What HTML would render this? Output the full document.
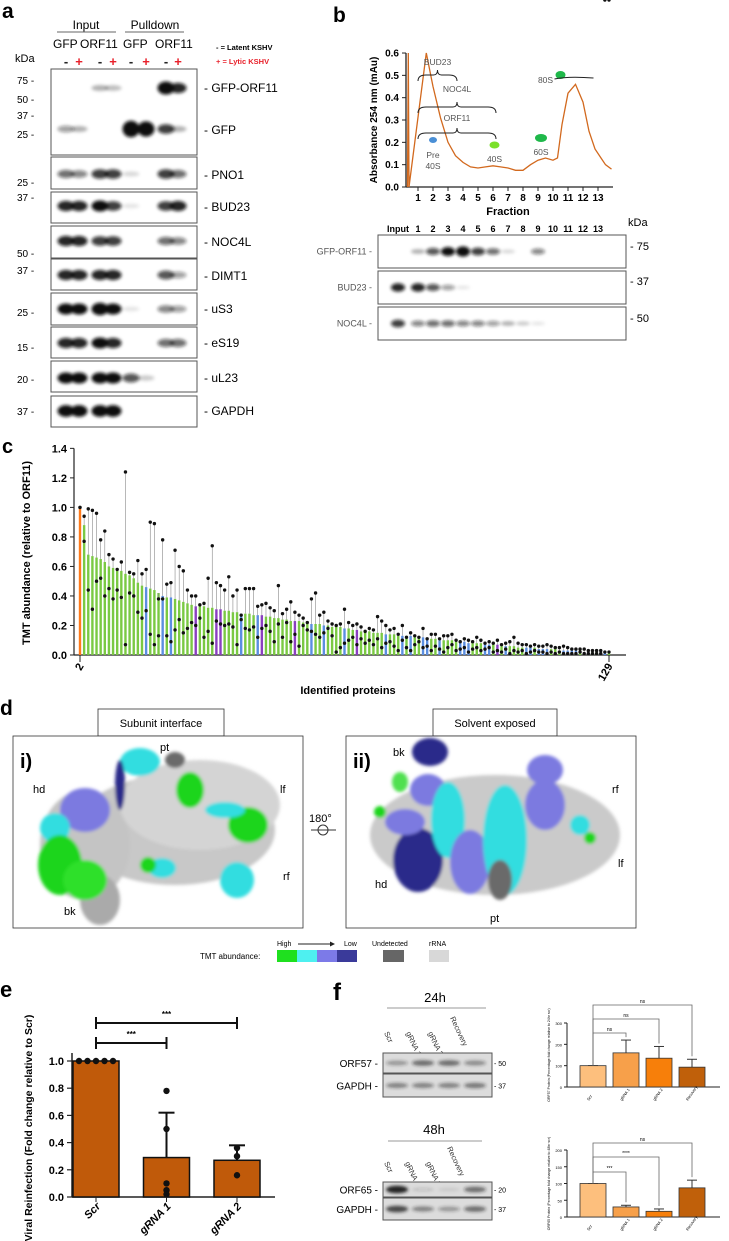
<!DOCTYPE html>
<html><head><meta charset="utf-8"><style>
html,body{margin:0;padding:0;background:#fff;}
svg{display:block;font-family:"Liberation Sans",Arial,sans-serif;}
</style></head><body>
<svg id="fig" width="729" height="1241" viewBox="0 0 729 1241" xmlns="http://www.w3.org/2000/svg">
<defs>
<filter id="blur" x="-50%" y="-50%" width="200%" height="200%"><feGaussianBlur stdDeviation="1.6"/></filter>
</defs>

<!-- PANEL A -->
<g>
<text x="2" y="18" font-size="21" font-weight="bold">a</text>
<text x="86" y="29" font-size="12" text-anchor="middle">Input</text>
<line x1="57" y1="32" x2="116" y2="32" stroke="#333" stroke-width="0.8"/>
<text x="155" y="29" font-size="12" text-anchor="middle">Pulldown</text>
<line x1="125" y1="32" x2="184" y2="32" stroke="#333" stroke-width="0.8"/>
<text x="53" y="48" font-size="12">GFP</text><text x="80" y="48" font-size="12">ORF11</text>
<text x="123" y="48" font-size="12">GFP</text><text x="155" y="48" font-size="12">ORF11</text>
<g id="pm" font-size="13" font-weight="bold"></g>
<text x="216" y="50" font-size="7.5" font-weight="bold">-  = Latent KSHV</text>
<text x="216" y="64" font-size="7.5" font-weight="bold" fill="#e8202a">+ = Lytic KSHV</text>
<text x="15" y="62" font-size="11">kDa</text>
<g id="blotsA"></g>
</g>

<!-- PANEL B -->
<g>
<text x="333" y="22" font-size="21" font-weight="bold">b</text>
<g id="chartB"></g>
<g id="blotsB"></g>
</g>

<!-- PANEL C -->
<g>
<text x="2" y="453" font-size="20" font-weight="bold">c</text>
<g id="chartC"></g>
</g>

<!-- PANEL D -->
<g>
<text x="0" y="715" font-size="21" font-weight="bold">d</text>
<rect x="98" y="709" width="126" height="27" fill="#fff" stroke="#333" stroke-width="0.8"/>
<text x="161" y="727" font-size="11" text-anchor="middle">Subunit interface</text>
<rect x="433" y="709" width="124" height="27" fill="#fff" stroke="#333" stroke-width="0.8"/>
<text x="495" y="727" font-size="11" text-anchor="middle">Solvent exposed</text>
<rect x="13" y="736" width="290" height="192" fill="#fff" stroke="#333" stroke-width="0.8"/>
<rect x="346" y="736" width="290" height="192" fill="#fff" stroke="#333" stroke-width="0.8"/>
<g filter="url(#blur)">
<!-- structure i -->
<ellipse cx="175" cy="830" rx="100" ry="55" fill="#c8c8c8"/>
<ellipse cx="85" cy="845" rx="45" ry="55" fill="#c4c4c4"/>
<ellipse cx="200" cy="805" rx="80" ry="45" fill="#d4d4d4"/>
<ellipse cx="100" cy="900" rx="20" ry="25" fill="#aaa"/>
<ellipse cx="85" cy="810" rx="25" ry="22" fill="#7c7ae0"/>
<ellipse cx="55" cy="828" rx="15" ry="15" fill="#33dde0"/>
<ellipse cx="60" cy="865" rx="22" ry="30" fill="#1fd51f"/>
<ellipse cx="85" cy="880" rx="22" ry="20" fill="#2fe02a"/>
<ellipse cx="140" cy="762" rx="20" ry="14" fill="#33dde0"/>
<ellipse cx="120" cy="785" rx="5" ry="25" fill="#2a2a8a"/>
<ellipse cx="190" cy="790" rx="14" ry="18" fill="#1fd51f"/>
<ellipse cx="248" cy="825" rx="20" ry="18" fill="#1fd51f"/>
<ellipse cx="225" cy="810" rx="20" ry="8" fill="#33dde0"/>
<ellipse cx="237" cy="880" rx="17" ry="18" fill="#33dde0"/>
<ellipse cx="162" cy="868" rx="14" ry="10" fill="#33dde0"/>
<ellipse cx="148" cy="865" rx="8" ry="8" fill="#1fd51f"/>
<ellipse cx="175" cy="760" rx="10" ry="8" fill="#6a6a6a"/>
<!-- structure ii -->
<ellipse cx="495" cy="835" rx="125" ry="60" fill="#cacaca"/>
<ellipse cx="430" cy="752" rx="18" ry="14" fill="#2a2a8a"/>
<ellipse cx="428" cy="790" rx="18" ry="16" fill="#7c7ae0"/>
<ellipse cx="400" cy="782" rx="8" ry="10" fill="#4fe04f"/>
<ellipse cx="418" cy="860" rx="25" ry="32" fill="#2a2a8a"/>
<ellipse cx="405" cy="822" rx="20" ry="13" fill="#7c7ae0"/>
<ellipse cx="448" cy="820" rx="17" ry="38" fill="#33dde0"/>
<ellipse cx="470" cy="862" rx="20" ry="32" fill="#7c7ae0"/>
<ellipse cx="505" cy="840" rx="22" ry="55" fill="#33dde0"/>
<ellipse cx="545" cy="805" rx="20" ry="25" fill="#7c7ae0"/>
<ellipse cx="545" cy="770" rx="18" ry="15" fill="#7c7ae0"/>
<ellipse cx="500" cy="880" rx="12" ry="20" fill="#6a6a6a"/>
<ellipse cx="580" cy="825" rx="10" ry="10" fill="#33dde0"/>
<ellipse cx="590" cy="838" rx="6" ry="6" fill="#1fd51f"/>
<ellipse cx="380" cy="812" rx="6" ry="6" fill="#1fd51f"/>
</g>
<text x="20" y="768" font-size="20" font-weight="bold">i)</text>
<text x="353" y="768" font-size="20" font-weight="bold">ii)</text>
<text x="33" y="793" font-size="11">hd</text><text x="160" y="751" font-size="11">pt</text>
<text x="280" y="793" font-size="11">lf</text><text x="283" y="880" font-size="11">rf</text>
<text x="64" y="915" font-size="11">bk</text>
<text x="393" y="756" font-size="11">bk</text><text x="612" y="793" font-size="11">rf</text>
<text x="618" y="867" font-size="11">lf</text><text x="375" y="888" font-size="11">hd</text>
<text x="490" y="922" font-size="11">pt</text>
<text x="309" y="822" font-size="11">180°</text>
<line x1="311" y1="830" x2="336" y2="830" stroke="#333"/>
<circle cx="323" cy="830" r="5" fill="none" stroke="#333"/>
<text x="277" y="946" font-size="7">High</text>
<line x1="298" y1="944" x2="330" y2="944" stroke="#222"/><path d="M330,941.5 L335,944 L330,946.5Z" fill="#222"/>
<text x="344" y="946" font-size="7">Low</text>
<text x="372" y="946" font-size="7">Undetected</text>
<text x="429" y="946" font-size="7">rRNA</text>
<text x="200" y="959" font-size="8">TMT abundance:</text>
<rect x="277" y="950" width="20" height="12" fill="#1fe01f"/>
<rect x="297" y="950" width="20" height="12" fill="#4ef0f0"/>
<rect x="317" y="950" width="20" height="12" fill="#7c7ae8"/>
<rect x="337" y="950" width="20" height="12" fill="#3a3a9a"/>
<rect x="383" y="950" width="21" height="12" fill="#666"/>
<rect x="429" y="950" width="20" height="12" fill="#d8d8d8"/>
</g>

<!-- PANEL E -->
<g>
<text x="0" y="997" font-size="22" font-weight="bold">e</text>
<g id="chartE"></g>
</g>

<!-- PANEL F -->
<g>
<text x="333" y="1000" font-size="24" font-weight="bold">f</text>
<text x="435" y="1002" font-size="13" text-anchor="middle">24h</text>
<line x1="387" y1="1008" x2="486" y2="1008" stroke="#999"/>
<text x="434" y="1134" font-size="13" text-anchor="middle">48h</text>
<line x1="388" y1="1141" x2="482" y2="1141" stroke="#999"/>
<g id="blotsF"></g>
<g id="chartF1"></g>
<g id="chartF2"></g>
</g>
</svg>

<script>
var NS="http://www.w3.org/2000/svg";
function mk(parent,tag,attrs,txt){var e=document.createElementNS(NS,tag);for(var k in attrs)e.setAttribute(k,attrs[k]);if(txt!==undefined)e.textContent=txt;parent.appendChild(e);return e;}

/* ---------- Panel A blots ---------- */
var laneSigns=["-","+","-","+","-","+","-","+"];
var laneX=[66,79,100,113,131,146,166,178];
var pm=document.getElementById('pm');
for(var i=0;i<8;i++){var t=mk(pm,'text',{x:laneX[i],y:66,'text-anchor':'middle',fill:laneSigns[i]=="+"?"#e8202a":"#222"},laneSigns[i]);
}
var blotRows=[
 {name:"GFP-ORF11",y0:69,y1:155,by:88,ly:88,b:[0,0,.3,.25,0,0,1.3,.9]},
 {name:"GFP",y0:null,by:129,ly:130,b:[.4,.3,0,0,1.8,1.6,.8,.3]},
 {name:"PNO1",y0:157,y1:189,by:174,ly:175,b:[.6,.5,.8,.8,.15,0,.8,.6]},
 {name:"BUD23",y0:192,y1:223,by:206,ly:207,b:[.9,.9,1,.8,.1,0,.8,.9]},
 {name:"NOC4L",y0:226,y1:258,by:241,ly:242,b:[.9,.9,.8,.8,0,0,.6,.5]},
 {name:"DIMT1",y0:259,y1:290,by:275,ly:276,b:[.9,.9,.9,.9,0,0,.7,.4]},
 {name:"uS3",y0:293,y1:325,by:309,ly:309,b:[1,1,1.2,1,.1,0,.5,.4]},
 {name:"eS19",y0:327,y1:358,by:343,ly:343,b:[.9,.9,1,.9,0,0,.6,.6]},
 {name:"uL23",y0:361,y1:392,by:378,ly:378,b:[1,1,1,1,.7,.2,0,0]},
 {name:"GAPDH",y0:396,y1:427,by:411,ly:411,b:[1.1,1.1,1.1,1.1,0,0,0,0]}];
var kdaA=[["75 -",80],["50 -",99],["37 -",115],["25 -",134],["25 -",182],["37 -",197],["50 -",253],["37 -",270],["25 -",312],["15 -",347],["20 -",379],["37 -",411]];
var gA=document.getElementById('blotsA');
blotRows.forEach(function(r){
 if(r.y0!==null){var bx=mk(gA,'rect',{x:51,y:r.y0,width:146,height:r.y1-r.y0,fill:"#fff",stroke:"#555","stroke-width":1});
 }
 var bg=mk(gA,'g',{filter:'url(#blur)'});
 r.b.forEach(function(v,i){if(v>0){var e=mk(bg,'ellipse',{cx:laneX[i],cy:r.by,rx:8.5,ry:Math.min(10,2+v*3.5),fill:"#111",opacity:Math.min(1,v)});
 }});
 var l=mk(gA,'text',{x:204,y:r.ly+4,'font-size':12},"- "+r.name);
 
});
kdaA.forEach(function(k){mk(gA,'text',{x:17,y:k[1]+4,'font-size':10},k[0]);});

/* ---------- Panel B chart ---------- */
var fracTicks=[1,2,3,4,5,6,7,8,9,10,11,12,13];
var absTicks=[0,0.1,0.2,0.3,0.4,0.5,0.6];
var profileX=[0.3,0.35,0.4,1.55,2.0,2.5,3.0,3.5,4.0,4.5,5.0,5.5,6.0,6.5,7.0,7.5,8.0,8.5,9.0,9.5,10.0,10.3,10.6,11.0,11.5,12.0,12.4,12.8,13.2,13.5,13.9];
var profileY=[0.0,0.6,0.0,0.6,0.45,0.31,0.2,0.14,0.11,0.09,0.085,0.09,0.095,0.09,0.085,0.075,0.075,0.1,0.12,0.13,0.12,0.13,0.28,0.42,0.46,0.38,0.25,0.17,0.13,0.1,0.08];
var gB=document.getElementById('chartB');
function bx(f){return 418+(f-1)*15;} function by(v){return 187-v*223.3;}
mk(gB,'line',{x1:406,y1:by(0.6),x2:406,y2:187,stroke:"#222","stroke-width":1.3});
mk(gB,'line',{x1:406,y1:187,x2:613,y2:187,stroke:"#222","stroke-width":1.3});
absTicks.forEach(function(v){mk(gB,'line',{x1:402,x2:406,y1:by(v),y2:by(v),stroke:"#222"});
 var t=mk(gB,'text',{x:399,y:by(v)+3.5,'font-size':10,'font-weight':'bold','text-anchor':'end'},v.toFixed(1));});
fracTicks.forEach(function(f){mk(gB,'line',{x1:bx(f),x2:bx(f),y1:187,y2:191,stroke:"#222"});
 var t=mk(gB,'text',{x:bx(f),y:201,'font-size':10,'font-weight':'bold','text-anchor':'middle'},f);});
var t=mk(gB,'text',{x:508,y:215,'font-size':11,'font-weight':'bold','text-anchor':'middle'},"Fraction");
t=mk(gB,'text',{x:0,y:0,'font-size':10,'font-weight':'bold','text-anchor':'middle',transform:'translate(377,120) rotate(-90)'},"Absorbance 254 nm (mAu)");
var d="";profileX.forEach(function(x,i){var X=Math.min(613,Math.max(406,bx(x))),Y=Math.max(by(0.6),by(profileY[i]));d+=(i?"L":"M")+X.toFixed(1)+","+Y.toFixed(1);});
var pl=mk(gB,'path',{d:d,fill:"none",stroke:"#d2691e","stroke-width":1.3});
[["BUD23",1,3.6,75,65],["NOC4L",1,6.2,107,92],["ORF11",1,6.2,133,121]].forEach(function(b){var x1=bx(b[1]),x2=bx(b[2]),y=b[3],m=(x1+x2)/2;
 mk(gB,'path',{d:"M"+x1+","+(y+6)+" Q"+x1+","+y+" "+(x1+8)+","+y+" L"+(m-4)+","+y+" Q"+m+","+y+" "+m+","+(y-5)+" Q"+m+","+y+" "+(m+4)+","+y+" L"+(x2-8)+","+y+" Q"+x2+","+y+" "+x2+","+(y+6),fill:"none",stroke:"#222","stroke-width":1});
 mk(gB,'text',{x:m,y:b[4],'font-size':8.5,fill:'#555','text-anchor':'middle'},b[0]);});
mk(gB,'ellipse',{cx:bx(2),cy:140,rx:4,ry:3,fill:"#4a8fd6"});
mk(gB,'text',{x:bx(2),y:158,'font-size':8.5,fill:'#555','text-anchor':'middle'},"Pre");
mk(gB,'text',{x:bx(2),y:169,'font-size':8.5,fill:'#555','text-anchor':'middle'},"40S");
mk(gB,'ellipse',{cx:bx(6.1),cy:145,rx:5,ry:3.5,fill:"#7be02a"});
mk(gB,'text',{x:bx(6.1),y:162,'font-size':8.5,fill:'#555','text-anchor':'middle'},"40S");
mk(gB,'ellipse',{cx:bx(9.2),cy:138,rx:6,ry:4,fill:"#1fb84a"});
mk(gB,'text',{x:bx(9.2),y:155,'font-size':8.5,fill:'#555','text-anchor':'middle'},"60S");
mk(gB,'ellipse',{cx:bx(10.5),cy:75,rx:5,ry:4,fill:"#1fb84a"});
mk(gB,'path',{d:"M"+bx(10.1)+",79 Q"+bx(11)+",76 "+bx(12.7)+",78",fill:"none",stroke:"#222"});
mk(gB,'text',{x:bx(9.5),y:83,'font-size':8.5,fill:'#555','text-anchor':'middle'},"80S");

/* ---------- Panel B blots ---------- */
var gBB=document.getElementById('blotsB');
var laneLabB=["Input","1","2","3","4","5","6","7","8","9","10","11","12","13"];
function lbx(i){return i==0?398:418+(i-1)*15;}
laneLabB.forEach(function(l,i){mk(gBB,'text',{x:lbx(i),y:232,'font-size':9,'font-weight':'bold','text-anchor':'middle'},l);});
mk(gBB,'text',{x:628,y:226,'font-size':11},"kDa");
var bRows=[{n:"GFP-ORF11",y0:235,y1:268,k:"- 75",ky:250,b:[0,.3,.7,1,1.2,.8,.6,.15,0,.5,0,0,0,0]},
 {n:"BUD23",y0:271,y1:304,k:"- 37",ky:285,b:[.9,.9,.7,.4,.1,0,0,0,0,0,0,0,0,0]},
 {n:"NOC4L",y0:307,y1:340,k:"- 50",ky:322,b:[.8,.5,.6,.6,.5,.5,.4,.3,.2,.1,0,0,0,0]}];
bRows.forEach(function(r){var bx2=mk(gBB,'rect',{x:378,y:r.y0,width:248,height:r.y1-r.y0,fill:"#fff",stroke:"#555"});
 
 var g=mk(gBB,'g',{filter:'url(#blur)'});var cyy=(r.y0+r.y1)/2;
 r.b.forEach(function(v,i){if(v>0)mk(g,'ellipse',{cx:lbx(i),cy:cyy,rx:7,ry:1.5+v*3,fill:"#111",opacity:Math.min(1,v)});});
 mk(gBB,'text',{x:372,y:cyy+3,'font-size':9,fill:'#555','text-anchor':'end'},r.n+" -");
 mk(gBB,'text',{x:630,y:r.ky,'font-size':11},r.k);});

/* ---------- Panel C chart ---------- */
var tmtValues=[1.00,0.88,0.68,0.67,0.66,0.65,0.63,0.60,0.59,0.58,0.57,0.55,0.54,0.52,0.49,0.47,0.46,0.45,0.44,0.42,0.40,0.39,0.39,0.38,0.37,0.36,0.35,0.34,0.33,0.33,0.33,0.32,0.32,0.31,0.31,0.30,0.30,0.29,0.29,0.28,0.28,0.28,0.27,0.27,0.27,0.26,0.26,0.25,0.25,0.24,0.24,0.23,0.23,0.23,0.22,0.22,0.21,0.21,0.21,0.20,0.20,0.19,0.19,0.19,0.18,0.18,0.17,0.17,0.16,0.16,0.16,0.15,0.15,0.15,0.14,0.14,0.14,0.13,0.13,0.13,0.13,0.12,0.12,0.12,0.11,0.11,0.11,0.10,0.10,0.10,0.10,0.09,0.09,0.09,0.08,0.08,0.08,0.08,0.07,0.07,0.07,0.07,0.06,0.06,0.06,0.06,0.05,0.05,0.05,0.05,0.05,0.04,0.04,0.04,0.04,0.04,0.03,0.03,0.03,0.03,0.03,0.03,0.02,0.02,0.02,0.02,0.02,0.02,0.01];
var tmtMax=[1.00,0.94,0.99,0.98,0.96,0.78,0.84,0.68,0.65,0.58,0.63,1.24,0.56,0.55,0.64,0.55,0.58,0.90,0.89,0.38,0.78,0.48,0.49,0.71,0.60,0.57,0.44,0.40,0.40,0.34,0.35,0.52,0.74,0.49,0.47,0.44,0.53,0.40,0.44,0.27,0.45,0.45,0.45,0.33,0.34,0.35,0.32,0.30,0.47,0.28,0.31,0.36,0.29,0.27,0.25,0.22,0.38,0.42,0.27,0.29,0.23,0.21,0.20,0.21,0.31,0.22,0.20,0.21,0.19,0.16,0.18,0.17,0.26,0.23,0.20,0.17,0.18,0.14,0.20,0.12,0.15,0.13,0.12,0.18,0.11,0.14,0.14,0.11,0.13,0.13,0.14,0.10,0.09,0.11,0.10,0.09,0.12,0.10,0.08,0.09,0.08,0.10,0.07,0.08,0.09,0.12,0.08,0.07,0.07,0.06,0.07,0.06,0.06,0.07,0.06,0.05,0.05,0.06,0.05,0.04,0.04,0.04,0.04,0.03,0.03,0.03,0.03,0.02,0.02];
var tmtMin=[1.00,0.77,0.44,0.31,0.50,0.52,0.40,0.45,0.38,0.44,0.39,0.07,0.42,0.40,0.29,0.25,0.30,0.14,0.07,0.13,0.38,0.13,0.09,0.17,0.24,0.15,0.18,0.22,0.20,0.25,0.12,0.16,0.08,0.23,0.21,0.20,0.21,0.19,0.07,0.24,0.18,0.17,0.19,0.12,0.18,0.20,0.16,0.09,0.21,0.12,0.22,0.09,0.14,0.06,0.20,0.17,0.16,0.14,0.12,0.15,0.18,0.13,0.02,0.05,0.08,0.10,0.12,0.07,0.11,0.08,0.10,0.07,0.11,0.05,0.08,0.09,0.06,0.03,0.10,0.05,0.03,0.07,0.09,0.05,0.06,0.03,0.06,0.04,0.02,0.05,0.07,0.03,0.04,0.05,0.02,0.04,0.05,0.03,0.04,0.05,0.02,0.03,0.02,0.04,0.01,0.03,0.02,0.03,0.01,0.02,0.03,0.02,0.02,0.01,0.02,0.01,0.02,0.01,0.01,0.01,0.01,0.02,0.01,0.01,0.01,0.01,0.01];
var tmtColor="ogggggggggggggggbgggbgbgggggpggggppggggbgggbpgggggggpgggbggbggggbggpggggggbgggbgbggbbggbggggbbbgggbbgpgbggggbbgbbbgggbbbbgpbggbbg";
var cMap={o:"#ff7a1a",g:"#7ac943",b:"#5b8ee0",p:"#8a3fc0"};
var gC=document.getElementById('chartC');
var cN=tmtValues.length;
function cx(i){return 80+i*(609-80)/(cN-1);} function cy(v){return 655-v*147.6;}
mk(gC,'line',{x1:74,y1:cy(1.4),x2:74,y2:655,stroke:"#222","stroke-width":1.2});
mk(gC,'line',{x1:74,y1:655,x2:626,y2:655,stroke:"#222","stroke-width":1.2});
var cTicks=[0,0.2,0.4,0.6,0.8,1.0,1.2,1.4];
cTicks.forEach(function(v){mk(gC,'line',{x1:70,x2:74,y1:cy(v),y2:cy(v),stroke:"#222"});
 var t=mk(gC,'text',{x:67,y:cy(v)+4,'font-size':11,'font-weight':'bold','text-anchor':'end'},v.toFixed(1));});
tmtValues.forEach(function(v,i){var x=cx(i);
 var r=mk(gC,'rect',{x:x-1.2,y:cy(v),width:2.4,height:655-cy(v),fill:cMap[tmtColor[i]]||"#7ac943"});
 
 mk(gC,'line',{x1:x,x2:x,y1:cy(tmtMax[i]),y2:cy(v),stroke:"#888","stroke-width":0.6});
 var p1=mk(gC,'circle',{cx:x,cy:cy(tmtMax[i]),r:1.7,fill:"#111"});
 var p2=mk(gC,'circle',{cx:x,cy:cy(tmtMin[i]),r:1.7,fill:"#111"});
});
[["2",0],["129",cN-1]].forEach(function(l){var x=cx(l[1]);mk(gC,'line',{x1:x,x2:x,y1:655,y2:662,stroke:"#222"});
 var t=mk(gC,'text',{x:0,y:0,'font-size':11,'font-weight':'bold','text-anchor':'end',transform:'translate('+(x+4)+',666) rotate(-60)'},l[0]);});
t=mk(gC,'text',{x:348,y:694,'font-size':11,'font-weight':'bold','text-anchor':'middle'},"Identified proteins");
t=mk(gC,'text',{x:0,y:0,'font-size':11,'font-weight':'bold','text-anchor':'middle',transform:'translate(30,553) rotate(-90)'},"TMT abundance (relative to ORF11)");

/* ---------- Panel E chart ---------- */
var eCats=["Scr","gRNA 1","gRNA 2"];
var eMeans=[1.0,0.29,0.27];
var eErr=[0.0,0.62,0.38];
var ePoints=[[1,1,1,1,1],[0.78,0.50,0.10,0.05,0.02],[0.36,0.30,0.16]];
var eTicks=[0,0.2,0.4,0.6,0.8,1.0];
var gE=document.getElementById('chartE');
function ey(v){return 1197-v*136;} function ex(i){return 96+i*70.5;}
mk(gE,'line',{x1:72,y1:1053,x2:72,y2:1197,stroke:"#222","stroke-width":1.5});
mk(gE,'line',{x1:72,y1:1197,x2:275,y2:1197,stroke:"#222","stroke-width":1.5});
eTicks.forEach(function(v){mk(gE,'line',{x1:67,x2:72,y1:ey(v),y2:ey(v),stroke:"#222","stroke-width":1.2});
 var t=mk(gE,'text',{x:64,y:ey(v)+4,'font-size':11,'font-weight':'bold','text-anchor':'end'},v.toFixed(1));});
eCats.forEach(function(c,i){var x=ex(i);
 if(eErr[i]>0){mk(gE,'line',{x1:x,x2:x,y1:ey(eErr[i]),y2:ey(eMeans[i]),stroke:"#111","stroke-width":2});mk(gE,'line',{x1:x-8,x2:x+8,y1:ey(eErr[i]),y2:ey(eErr[i]),stroke:"#111","stroke-width":2});}
 var r=mk(gE,'rect',{x:x-23,y:ey(eMeans[i]),width:46,height:1197-ey(eMeans[i]),fill:"#c05a0a",stroke:"#111","stroke-width":1.5});
 
 ePoints[i].forEach(function(p,j){var px=i==0?x-17+j*8.5:x;var pt=mk(gE,'circle',{cx:px,cy:ey(p),r:3.2,fill:"#111"});});
 mk(gE,'line',{x1:x,x2:x,y1:1197,y2:1202,stroke:"#222"});
 var t=mk(gE,'text',{x:0,y:0,'font-size':11,'font-weight':'bold','font-style':'italic','text-anchor':'end',transform:'translate('+(x+5)+',1207) rotate(-45)'},c);});
[[0,1,1043],[0,2,1023]].forEach(function(s){var x1=ex(s[0]),x2=ex(s[1]);
 mk(gE,'path',{d:"M"+x1+","+(s[2]+6)+" V"+(s[2]-6)+" M"+x1+","+s[2]+" H"+x2+" M"+x2+","+(s[2]+6)+" V"+(s[2]-6),stroke:"#111","stroke-width":2,fill:"none"});
 var t=mk(gE,'text',{x:(x1+x2)/2,y:s[2]-6,'font-size':8,'font-weight':'bold','text-anchor':'middle'},"***");});
t=mk(gE,'text',{x:0,y:0,'font-size':10.5,'font-weight':'bold','text-anchor':'middle',transform:'translate(32,1128) rotate(-90)'},"Viral Reinfection (Fold change relative to Scr)");

/* ---------- Panel F blots ---------- */
var gF=document.getElementById('blotsF');
var fLanes=["Scr","gRNA 1","gRNA 2","Recovery"];
function fLaneLabels(y,lens){fLanes.forEach(function(l,i){var x=391+i*22;mk(gF,'text',{x:0,y:0,'font-size':7,fill:'#333','text-anchor':'end',transform:'translate('+x+','+y+') rotate(-115) scale(-1,-1)'},l);});}
fLanes.forEach(function(l,i){var x=390+i*22;mk(gF,'text',{x:0,y:0,'font-size':7.5,fill:'#333','text-anchor':'start',transform:'translate('+(x-6)+','+(l.length>6?1018:1033)+') rotate(65)'},l);});
fLanes.forEach(function(l,i){var x=390+i*21;mk(gF,'text',{x:0,y:0,'font-size':7.5,fill:'#333','text-anchor':'start',transform:'translate('+(x-6)+','+(l.length>6?1148:1163)+') rotate(65)'},l);});
var fRows=[{n:"ORF57",y0:1053,y1:1073,k:"- 50",b:[.4,.6,.6,.45]},{n:"GAPDH",y0:1074,y1:1097,k:"- 37",b:[.5,.5,.5,.55]},
 {n:"ORF65",y0:1182,y1:1197,k:"- 20",b:[1,.15,.1,.6]},{n:"GAPDH",y0:1198,y1:1220,k:"- 37",b:[.8,.5,.4,.6]}];
fRows.forEach(function(r,ri){var bx3=mk(gF,'rect',{x:383,y:r.y0,width:109,height:r.y1-r.y0,fill:"#dcdcdc",stroke:"#555"});
 
 var g=mk(gF,'g',{filter:'url(#blur)'});var cyy=(r.y0+r.y1)/2;
 r.b.forEach(function(v,i){mk(g,'ellipse',{cx:397+i*26,cy:cyy,rx:11,ry:1.3+v*2.5,fill:"#222",opacity:v});});
 mk(gF,'text',{x:378,y:cyy+4,'font-size':10,'text-anchor':'end'},r.n+" -");
 mk(gF,'text',{x:494,y:cyy+3,'font-size':7},r.k);});

/* ---------- Panel F mini charts ---------- */
var f1Cats=["Scr","gRNA 1","gRNA 2","Recovery"];
var f1Means=[100,160,135,93];
var f1Err=[100,220,190,130];
var f1Ticks=[0,100,200,300];
var f2Means=[100,30,17,87];
var f2Err=[100,35,24,110];
var f2Ticks=[0,50,100,150,200];
var fColors=["#fdbf7d","#f7a04a","#f77f0a","#c0600a"];
function mini(id,means,errs,ticks,ymax,y0,y1,yTitle,sigs){var g=document.getElementById(id);
 function fy(v){return y0-(v/ymax)*(y0-y1);} function fx(i){return 593+i*33;}
 mk(g,'line',{x1:567,y1:y1,x2:567,y2:y0,stroke:"#222"});mk(g,'line',{x1:567,y1:y0,x2:720,y2:y0,stroke:"#222"});
 ticks.forEach(function(v){mk(g,'line',{x1:564,x2:567,y1:fy(v),y2:fy(v),stroke:"#222"});mk(g,'text',{x:562,y:fy(v)+2,'font-size':4,'text-anchor':'end'},v);});
 means.forEach(function(m,i){var x=fx(i);mk(g,'line',{x1:x,x2:x,y1:fy(errs[i]),y2:fy(m),stroke:"#333"});mk(g,'line',{x1:x-5,x2:x+5,y1:fy(errs[i]),y2:fy(errs[i]),stroke:"#333"});
  var r=mk(g,'rect',{x:x-13,y:fy(m),width:26,height:y0-fy(m),fill:fColors[i],stroke:"#333","stroke-width":0.8});
  
  mk(g,'text',{x:0,y:0,'font-size':4,transform:'translate('+(x-4)+','+(y0+14)+') rotate(-55)'},f1Cats[i]);});
 sigs.forEach(function(s){var x2=fx(s[0]);mk(g,'path',{d:"M"+fx(0)+","+fy(means[0])+" V"+s[1]+" H"+x2+" V"+(fy(errs[s[0]])-3),stroke:"#666","stroke-width":0.8,fill:"none"});
  mk(g,'text',{x:(fx(0)+x2)/2,y:s[1]-2,'font-size':5,'text-anchor':'middle'},s[2]);});
 mk(g,'text',{x:0,y:0,'font-size':3.5,'text-anchor':'middle',transform:'translate(550,'+((y0+y1)/2)+') rotate(-90)'},yTitle);}
mini('chartF1',f1Means,f1Err,f1Ticks,300,1087,1023,"ORF57 Protein (Percentage fold change relative to 24hr scr)",[[1,1033,"ns"],[2,1019,"ns"],[3,1005,"ns"]]);
mini('chartF2',f2Means,f2Err,f2Ticks,200,1217,1150,"ORF65 Protein (Percentage fold change relative to 48hr scr)",[[1,1172,"***"],[2,1157,"****"],[3,1143,"ns"]]);
</script>
</body></html>
